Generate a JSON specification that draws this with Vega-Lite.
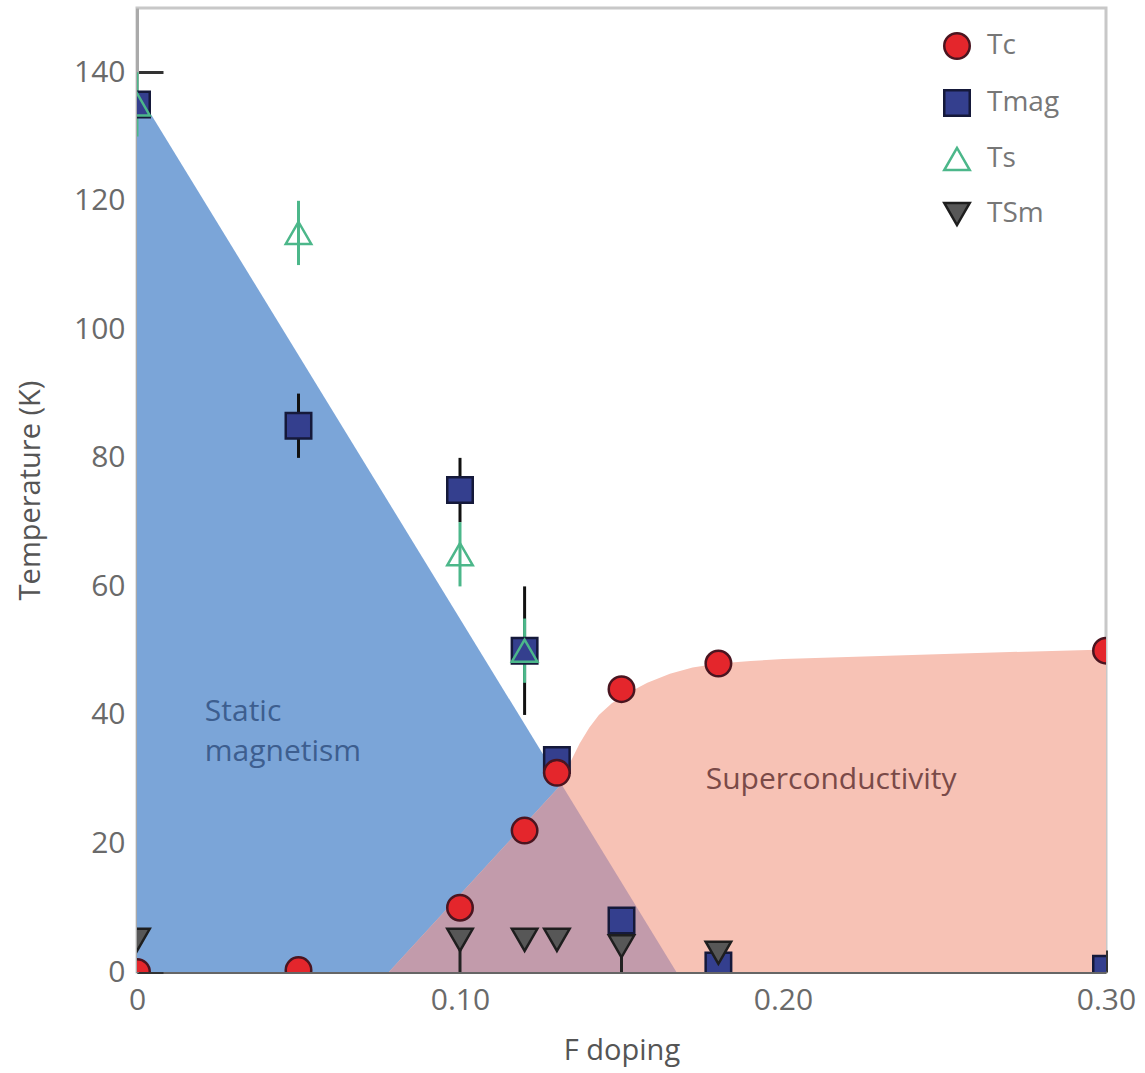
{
  "$schema": "https://vega.github.io/schema/vega-lite/v6.json",
  "width": 969,
  "height": 964,
  "autosize": {"type": "none"},
  "padding": {"left": 137, "top": 8, "right": 39, "bottom": 101},
  "background": "white",
  "config": {
    "font": "Open Sans",
    "view": {"stroke": "#c8c8c8", "strokeWidth": 3},
    "axis": {"grid": false, "labelFont": "Open Sans", "titleFont": "Open Sans", "labelFontSize": 30, "titleFontSize": 29, "labelColor": "#6a6a6a", "titleColor": "#555", "titleFontWeight": "normal", "tickColor": "#333", "tickWidth": 3},
    "legend": {"orient": "none", "legendX": 806, "legendY": 24, "title": null, "padding": 0, "labelFont": "Open Sans", "labelFontSize": 28, "labelColor": "#777", "symbolSize": 650, "symbolStrokeWidth": 2.5, "rowPadding": 21, "labelOffset": 16}
  },
  "datasets": {
    "blue": [{"x": 0, "T": 137}, {"x": 0.167, "T": 0}],
    "pink": [{"x": 0.078, "T": 0}, {"x": 0.1314, "T": 29.2}, {"x": 0.134, "T": 32.5}, {"x": 0.137, "T": 35.5}, {"x": 0.14, "T": 38}, {"x": 0.143, "T": 40}, {"x": 0.147, "T": 41.8}, {"x": 0.152, "T": 43.4}, {"x": 0.158, "T": 45}, {"x": 0.165, "T": 46.4}, {"x": 0.172, "T": 47.4}, {"x": 0.18, "T": 48}, {"x": 0.19, "T": 48.4}, {"x": 0.2, "T": 48.7}, {"x": 0.25, "T": 49.5}, {"x": 0.3, "T": 50.2}],
    "overlap": [{"x": 0.078, "T": 0}, {"x": 0.1314, "T": 29.2}, {"x": 0.167, "T": 0}],
    "errors": [
      {"series": "Tmag", "x": 0.05, "lo": 80, "hi": 90},
      {"series": "Tmag", "x": 0.10, "lo": 70, "hi": 80},
      {"series": "Tmag", "x": 0.12, "lo": 40, "hi": 60},
      {"series": "Tmag", "x": 0.15, "lo": 6, "hi": 10},
      {"series": "Ts", "x": 0, "lo": 130, "hi": 140},
      {"series": "Ts", "x": 0.05, "lo": 110, "hi": 120},
      {"series": "Ts", "x": 0.10, "lo": 60, "hi": 70},
      {"series": "Ts", "x": 0.12, "lo": 45, "hi": 55},
      {"series": "TSm", "x": 0.10, "lo": 0, "hi": 5},
      {"series": "TSm", "x": 0.15, "lo": 0, "hi": 4}
    ],
    "points": [
      {"series": "Tmag", "x": 0, "T": 135},
      {"series": "Tmag", "x": 0.05, "T": 85},
      {"series": "Tmag", "x": 0.10, "T": 75},
      {"series": "Tmag", "x": 0.12, "T": 50},
      {"series": "Tmag", "x": 0.13, "T": 33},
      {"series": "Tmag", "x": 0.15, "T": 8},
      {"series": "Tmag", "x": 0.18, "T": 1},
      {"series": "Tmag", "x": 0.30, "T": 0.5},
      {"series": "Tc", "x": 0, "T": 0},
      {"series": "Tc", "x": 0.05, "T": 0.3},
      {"series": "Tc", "x": 0.10, "T": 10},
      {"series": "Tc", "x": 0.12, "T": 22},
      {"series": "Tc", "x": 0.13, "T": 31},
      {"series": "Tc", "x": 0.15, "T": 44},
      {"series": "Tc", "x": 0.18, "T": 48},
      {"series": "Tc", "x": 0.30, "T": 50},
      {"series": "Ts", "x": 0, "T": 135},
      {"series": "Ts", "x": 0.05, "T": 115},
      {"series": "Ts", "x": 0.10, "T": 65},
      {"series": "Ts", "x": 0.12, "T": 50},
      {"series": "TSm", "x": 0, "T": 5},
      {"series": "TSm", "x": 0.10, "T": 5},
      {"series": "TSm", "x": 0.12, "T": 5},
      {"series": "TSm", "x": 0.13, "T": 5},
      {"series": "TSm", "x": 0.15, "T": 4},
      {"series": "TSm", "x": 0.18, "T": 3}
    ],
    "labels": [{"name": "sm", "label": "Static\nmagnetism"}, {"name": "sc", "label": "Superconductivity"}]
  },
  "layer": [
    {
      "data": {"name": "blue"},
      "mark": {"type": "area", "color": "#7ba5d8", "opacity": 1},
      "encoding": {
        "x": {"field": "x", "type": "quantitative", "scale": {"domain": [0, 0.3], "nice": false, "zero": false},
          "axis": {"values": [0, 0.05, 0.1, 0.15, 0.2, 0.25, 0.3], "labelExpr": "datum.value == 0 ? '0' : (round(datum.value * 100) % 10 == 0 ? format(datum.value, '.2f') : '')", "tickSize": -22, "labelPadding": 35, "labelOverlap": false, "labelFlush": false, "labelBound": false, "title": "F doping", "titlePadding": 21, "domainColor": "#666", "domainWidth": 3}},
        "y": {"field": "T", "type": "quantitative", "scale": {"domain": [0, 150], "nice": false},
          "axis": {"values": [0, 20, 40, 60, 80, 100, 120, 140], "tickSize": -26, "labelPadding": 38, "labelOverlap": false, "labelFlush": false, "labelBound": false, "title": "Temperature (K)", "titlePadding": 28, "domainColor": "#aaa", "domainWidth": 3}},
        "y2": {"datum": 0}
      }
    },
    {
      "data": {"name": "pink"},
      "mark": {"type": "area", "color": "#f7c2b5", "opacity": 1, "clip": true},
      "encoding": {
        "x": {"field": "x", "type": "quantitative"},
        "y": {"field": "T", "type": "quantitative"},
        "y2": {"datum": 0}
      }
    },
    {
      "data": {"name": "overlap"},
      "mark": {"type": "area", "color": "#c29bab", "opacity": 1},
      "encoding": {
        "x": {"field": "x", "type": "quantitative"},
        "y": {"field": "T", "type": "quantitative"},
        "y2": {"datum": 0}
      }
    },
    {
      "data": {"name": "labels"},
      "transform": [{"filter": "datum.name == 'sm'"}],
      "mark": {"type": "text", "align": "left", "baseline": "middle", "fontSize": 30, "color": "#3d5e8f", "lineBreak": "\n", "lineHeight": 40, "font": "Open Sans"},
      "encoding": {"x": {"datum": 0.021}, "y": {"datum": 40.4}, "text": {"field": "label"}}
    },
    {
      "data": {"name": "labels"},
      "transform": [{"filter": "datum.name == 'sc'"}],
      "mark": {"type": "text", "align": "center", "baseline": "middle", "fontSize": 30, "color": "#7a4a48", "font": "Open Sans"},
      "encoding": {"x": {"datum": 0.2149}, "y": {"datum": 29.9}, "text": {"field": "label"}}
    },
    {
      "data": {"name": "errors"},
      "mark": {"type": "rule", "strokeWidth": 3, "clip": true},
      "encoding": {
        "x": {"field": "x", "type": "quantitative"},
        "y": {"field": "lo", "type": "quantitative"},
        "y2": {"field": "hi"},
        "color": {"field": "series", "type": "nominal", "scale": {"domain": ["Tmag", "Ts", "TSm"], "range": ["#111111", "#4cb78a", "#222222"]}, "legend": null}
      }
    },
    {
      "data": {"name": "points"},
      "mark": {"type": "point", "filled": true, "size": 650, "strokeWidth": 2.5, "opacity": 1, "clip": true},
      "encoding": {
        "x": {"field": "x", "type": "quantitative"},
        "y": {"field": "T", "type": "quantitative"},
        "shape": {"field": "series", "type": "nominal", "scale": {"domain": ["Tc", "Tmag", "Ts", "TSm"], "range": ["circle", "square", "triangle-up", "triangle-down"]}, "legend": {"title": null}},
        "fill": {"field": "series", "type": "nominal", "scale": {"domain": ["Tc", "Tmag", "Ts", "TSm"], "range": ["#e4262c", "#343f8e", "transparent", "#575757"]}, "legend": {"title": null}},
        "stroke": {"field": "series", "type": "nominal", "scale": {"domain": ["Tc", "Tmag", "Ts", "TSm"], "range": ["#4a1520", "#15193a", "#4cb78a", "#1e1e1e"]}, "legend": {"title": null}}
      }
    }
  ]
}
